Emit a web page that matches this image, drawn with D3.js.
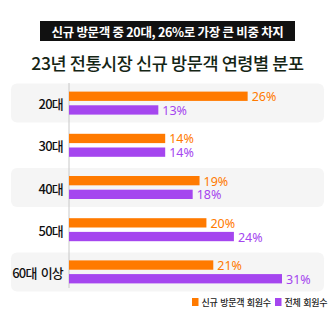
<!DOCTYPE html>
<html><head><meta charset="utf-8">
<script src="https://cdn.jsdelivr.net/npm/d3@7"></script>
<style>
html,body{margin:0;padding:0;background:#fff;}
svg{display:block;font-family:"Noto Sans CJK KR","Noto Sans",sans-serif;}
</style></head>
<body>
<svg id="chart" width="335" height="335"></svg>
<script>
const headline = "신규 방문객 중 20대, 26%로 가장 큰 비중 차지";
const title = "23년 전통시장 신규 방문객 연령별 분포";
const categories = ["20대", "30대", "40대", "50대", "60대 이상"];
const seriesNames = ["신규 방문객 회원수", "전체 회원수"];
const newVisitors = [26, 14, 19, 20, 21];
const allMembers = [13, 14, 18, 24, 31];
const colors = ["#ff7a00", "#a546ef"];

const svg = d3.select("#chart");
const W = 335;

// headline box
const hb = svg.append("g");
hb.append("rect").attr("x", 40).attr("y", 21).attr("width", 255).attr("height", 20).attr("fill", "#111");
hb.append("text").attr("x", W/2).attr("y", 31.5).attr("text-anchor", "middle")
  .attr("dominant-baseline", "central").attr("fill", "#fff")
  .attr("font-size", 12.5).attr("font-weight", 700).attr("letter-spacing", -0.3).text(headline);

svg.append("text").attr("x", W/2).attr("y", 62).attr("text-anchor", "middle")
  .attr("dominant-baseline", "central").attr("fill", "#152515")
  .attr("font-size", 17.5).attr("font-weight", 500).attr("letter-spacing", -0.4).text(title);

const x = d3.scaleLinear().domain([0, 31]).range([69, 282]);
const y = d3.scaleBand().domain(categories).range([82, 293]).padding(0);
const data = categories.map((c, i) => ({cat: c, vals: [newVisitors[i], allMembers[i]]}));

// background stripes
svg.append("g").selectAll("rect").data(data.filter((d, i) => i % 2 === 0)).join("rect")
  .attr("x", 11).attr("width", 313)
  .attr("y", d => y(d.cat) + y.bandwidth()/2 - 19.5).attr("height", 39)
  .attr("rx", 6).attr("fill", "#f5f5f5");

// axis line
svg.append("line").attr("x1", x(0)).attr("x2", x(0)).attr("y1", 83).attr("y2", 288)
  .attr("stroke", "#c8c8c8").attr("stroke-width", 1);

const groups = svg.append("g").selectAll("g").data(data).join("g")
  .attr("transform", d => `translate(0,${y(d.cat) + y.bandwidth()/2})`);

const sub = d3.scaleBand().domain([0, 1]).range([-11.5, 11.5]).paddingInner(0.32);

groups.selectAll("rect").data(d => d.vals.map((v, k) => ({v, k}))).join("rect")
  .attr("x", x(0)).attr("y", d => sub(d.k)).attr("height", sub.bandwidth())
  .attr("width", d => x(d.v) - x(0)).attr("fill", d => colors[d.k]);

groups.selectAll("text.val").data(d => d.vals.map((v, k) => ({v, k}))).join("text")
  .attr("class", "val")
  .attr("x", d => x(d.v) + 4).attr("y", d => sub(d.k) + sub.bandwidth()/2 + 0.5)
  .attr("dominant-baseline", "central").attr("fill", d => colors[d.k])
  .attr("font-size", 12.5).attr("font-family", "'Noto Sans', sans-serif").text(d => d.v + "%");

groups.append("text").attr("x", 63).attr("y", 0.5).attr("text-anchor", "end")
  .attr("dominant-baseline", "central").attr("fill", "#111").attr("font-weight", 500)
  .attr("font-size", 13).attr("letter-spacing", -0.8).attr("word-spacing", 2).text(d => d.cat);

// legend
const leg = svg.append("g");
const legX = [192, 275];
seriesNames.forEach((s, k) => {
  leg.append("rect").attr("x", legX[k]).attr("y", 298).attr("width", 6.5).attr("height", 8).attr("fill", colors[k]);
  leg.append("text").attr("x", legX[k] + 9.5).attr("y", 302).attr("dominant-baseline", "central")
    .attr("font-size", 9).attr("font-weight", 500).attr("letter-spacing", -0.3).attr("word-spacing", 1).attr("fill", "#222").text(s);
});
</script>
</body></html>
